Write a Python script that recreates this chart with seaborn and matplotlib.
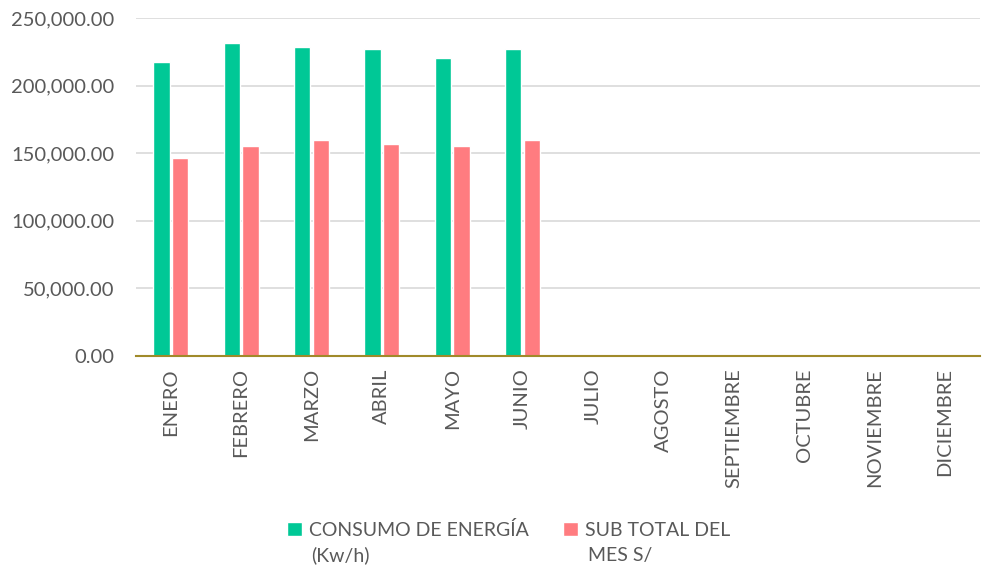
import pandas as pd
import seaborn as sns
import matplotlib.pyplot as plt
from matplotlib.ticker import FuncFormatter

# data
meses = ["ENERO", "FEBRERO", "MARZO", "ABRIL", "MAYO", "JUNIO",
         "JULIO", "AGOSTO", "SEPTIEMBRE", "OCTUBRE", "NOVIEMBRE", "DICIEMBRE"]
consumo = [217500, 232000, 229000, 227600, 220200, 227600, 0, 0, 0, 0, 0, 0]
subtotal = [146700, 155500, 159800, 156800, 155500, 159800, 0, 0, 0, 0, 0, 0]
series = ["CONSUMO DE ENERGÍA", "SUB TOTAL DEL"]
segunda_linea = ["(Kw/h)", "MES S/"]
colores = ["#00C896", "#FF7C80"]

df = pd.DataFrame({
    "mes": meses * 2,
    "valor": consumo + subtotal,
    "serie": [series[0]] * len(meses) + [series[1]] * len(meses),
})

sns.set_style("white")
plt.rcParams["font.family"] = ["Lato", "DejaVu Sans"]

fig, ax = plt.subplots(figsize=(9.82, 5.71), dpi=100)
fig.subplots_adjust(left=0.138, right=0.998, top=0.968, bottom=0.377)

sns.barplot(data=df, x="mes", y="valor", hue="serie", palette=colores,
            width=0.53, gap=0.12, ax=ax, saturation=1)

ax.set_ylim(0, 250000)
ax.set_yticks(range(0, 250001, 50000))
ax.yaxis.set_major_formatter(FuncFormatter(lambda v, p: f"{v:,.2f}"))
ax.grid(axis="y", color="#D9D9D9", lw=1.2)
ax.set_axisbelow(True)
for s in ["left", "right", "top"]:
    ax.spines[s].set_visible(False)
ax.spines["bottom"].set_color("#A08A2A")
ax.spines["bottom"].set_linewidth(1.5)
ax.set_xlabel("")
ax.set_ylabel("")
ax.tick_params(axis="x", rotation=90, labelsize=14.5, colors="#595959", length=0, pad=9)
ax.tick_params(axis="y", labelsize=14.5, colors="#595959", length=0, pad=15)

handles, labels = ax.get_legend_handles_labels()
ax.legend_.remove()
leg = fig.legend(handles, labels, loc="center", bbox_to_anchor=(0.518, 0.072), ncol=2,
                 frameon=False, fontsize=14, labelcolor="#595959", handlelength=0.75,
                 handleheight=0.75, handletextpad=0.35, columnspacing=1.8)

# second line of each legend label, below the first
fig.canvas.draw()
inv = fig.transFigure.inverted()
for t, extra in zip(leg.get_texts(), segunda_linea):
    bb = t.get_window_extent()
    x, y = inv.transform((bb.x0 + 3, bb.y0 - 25))
    fig.text(x, y, extra, fontsize=14, color="#595959", va="bottom", ha="left")

fig.savefig("out.png", dpi=100)
